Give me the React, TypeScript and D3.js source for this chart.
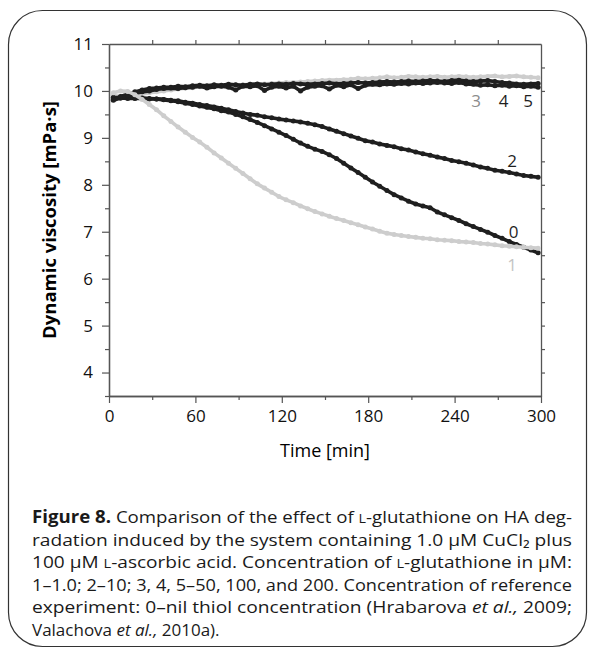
import * as d3 from "d3";
import React, { useEffect, useRef } from "react";

// sampling times [min]
const times = d3.range(3, 301, 5);

// dynamic viscosity [mPa·s]
const visc0 = [
  9.85, 9.85, 9.84, 9.84, 9.84, 9.83, 9.83, 9.81, 9.79, 9.77, 9.74, 9.71, 9.68, 9.65, 9.62,
  9.58, 9.55, 9.5, 9.45, 9.39, 9.33, 9.26, 9.19, 9.12, 9.05, 8.97, 8.89, 8.82, 8.76, 8.71,
  8.64, 8.56, 8.46, 8.36, 8.26, 8.16, 8.06, 7.97, 7.88, 7.79, 7.72, 7.65, 7.59, 7.55, 7.51,
  7.42, 7.36, 7.3, 7.24, 7.17, 7.11, 7.05, 6.99, 6.92, 6.86, 6.79, 6.73, 6.67, 6.61, 6.55,
];
const visc1 = [
  9.96, 10.0, 9.99, 9.92, 9.82, 9.71, 9.6, 9.47, 9.35, 9.23, 9.12, 9.01, 8.91, 8.8, 8.68,
  8.57, 8.46, 8.35, 8.24, 8.13, 8.02, 7.93, 7.84, 7.75, 7.68, 7.62, 7.55, 7.49, 7.43, 7.38,
  7.33, 7.28, 7.24, 7.19, 7.15, 7.1, 7.06, 7.01, 6.97, 6.94, 6.92, 6.9, 6.88, 6.86, 6.85,
  6.83, 6.82, 6.81, 6.79, 6.78, 6.77, 6.75, 6.74, 6.72, 6.7, 6.69, 6.68, 6.67, 6.66, 6.65,
];
const visc2 = [
  9.86, 9.86, 9.86, 9.85, 9.85, 9.84, 9.83, 9.82, 9.8, 9.79, 9.76, 9.74, 9.71, 9.69, 9.66,
  9.63, 9.6, 9.56, 9.53, 9.5, 9.48, 9.45, 9.43, 9.4, 9.38, 9.36, 9.34, 9.31, 9.28, 9.24,
  9.19, 9.14, 9.09, 9.04, 8.99, 8.94, 8.91, 8.87, 8.84, 8.81, 8.77, 8.74, 8.7, 8.66, 8.63,
  8.59, 8.56, 8.52, 8.49, 8.46, 8.42, 8.38, 8.35, 8.31, 8.29, 8.26, 8.23, 8.2, 8.18, 8.16,
];
const visc3 = [
  9.9, 9.88, 9.88, 9.9, 9.93, 9.96, 9.98, 10.0, 10.02, 10.04, 10.06, 10.07, 10.09, 10.1, 10.1,
  10.11, 10.12, 10.13, 10.13, 10.14, 10.14, 10.15, 10.16, 10.17, 10.18, 10.18, 10.19, 10.2, 10.21, 10.22,
  10.23, 10.23, 10.24, 10.25, 10.27, 10.26, 10.27, 10.28, 10.3, 10.28, 10.29, 10.31, 10.3, 10.29, 10.3,
  10.31, 10.29, 10.3, 10.31, 10.3, 10.29, 10.3, 10.31, 10.32, 10.3, 10.31, 10.32, 10.3, 10.29, 10.28,
];
const visc4 = [
  9.82, 9.88, 9.93, 9.98, 10.02, 10.05, 10.06, 10.08, 10.08, 10.1, 10.09, 10.11, 10.12, 10.11, 10.13,
  10.12, 10.14, 10.13, 10.12, 10.14, 10.15, 10.13, 10.14, 10.15, 10.14, 10.16, 10.15, 10.14, 10.15, 10.16,
  10.17, 10.15, 10.16, 10.17, 10.18, 10.17, 10.18, 10.19, 10.2, 10.19, 10.2, 10.21, 10.2, 10.21, 10.22,
  10.21, 10.2, 10.22, 10.23, 10.21, 10.2, 10.21, 10.22, 10.2, 10.18, 10.17, 10.15, 10.14, 10.15, 10.16,
];
const visc5 = [
  9.8, 9.85, 9.9, 9.95, 9.98, 10.0, 10.03, 10.05, 10.06, 10.05, 10.07, 10.08, 10.1, 10.06, 10.09,
  10.1, 10.08, 10.02, 10.1, 10.09, 10.11, 10.01, 10.08, 10.1, 10.06, 10.1, 10.0, 10.08, 10.1, 10.11,
  10.04, 10.12, 10.09, 10.13, 10.05, 10.12, 10.14, 10.13, 10.15, 10.14, 10.16, 10.15, 10.17, 10.16, 10.17,
  10.18, 10.17, 10.16, 10.18, 10.15, 10.14, 10.12, 10.13, 10.11, 10.12, 10.1, 10.11, 10.09, 10.1, 10.08,
];

const xTicks = [0, 60, 120, 180, 240, 300];
const yTicks = [4, 5, 6, 7, 8, 9, 10, 11];

// curve labels: text, time, viscosity
const labelNames = ["3", "4", "5", "2", "0", "1"];
const labelTimes = [255, 274, 291, 280, 281, 280];
const labelValues = [9.78, 9.78, 9.78, 8.5, 7.0, 6.3];

const BLACK = "#1f1f1f";
const GRAY = "#cdcdcd";
const FONT = "'Open Sans', sans-serif";

const App: React.FC = () => {
  const ref = useRef<SVGGElement | null>(null);

  useEffect(() => {
    if (!ref.current) return;
    const svg = d3.select(ref.current);
    svg.selectAll("*").remove();

    const width = 595;
    const height = 657;
    const margin = { top: 44, right: 54, bottom: 261, left: 109 };

    // frame around figure + caption
    svg
      .append("rect")
      .attr("x", 8.5)
      .attr("y", 10.5)
      .attr("width", width - 17)
      .attr("height", height - 21)
      .attr("rx", 34)
      .attr("fill", "none")
      .attr("stroke", "#333")
      .attr("stroke-width", 1.2);

    const x = d3
      .scaleLinear()
      .domain([0, 300])
      .range([margin.left, width - margin.right]);
    const y = d3
      .scaleLinear()
      .domain([3.5, 11])
      .range([height - margin.bottom, margin.top]);

    const axisColor = "#555";
    const styleAxis = (g: d3.Selection<SVGGElement, unknown, null, undefined>) => {
      g.selectAll("path").attr("stroke", axisColor).attr("stroke-width", 1.3);
      g.selectAll("line").attr("stroke", axisColor).attr("stroke-width", 1.2);
      g.selectAll("text")
        .attr("fill", "#111")
        .style("font-family", FONT)
        .style("font-size", "17px");
    };

    const minorX = d3.range(30, 300, 60);
    const minorY = d3.range(3.5, 11, 1);

    // bottom
    svg
      .append("g")
      .attr("transform", `translate(0,${y(3.5)})`)
      .call(d3.axisBottom(x).tickValues(minorX).tickSize(4).tickSizeOuter(0).tickFormat(() => ""))
      .call(styleAxis);
    svg
      .append("g")
      .attr("transform", `translate(0,${y(3.5)})`)
      .call(d3.axisBottom(x).tickValues(xTicks).tickSize(7).tickSizeOuter(0).tickPadding(7))
      .call(styleAxis);
    // top
    svg
      .append("g")
      .attr("transform", `translate(0,${y(11)})`)
      .call(d3.axisTop(x).tickValues(d3.range(30, 300, 30)).tickSize(4).tickSizeOuter(0).tickFormat(() => ""))
      .call(styleAxis);
    // left
    svg
      .append("g")
      .attr("transform", `translate(${x(0)},0)`)
      .call(d3.axisLeft(y).tickValues(minorY).tickSize(4).tickSizeOuter(0).tickFormat(() => ""))
      .call(styleAxis);
    svg
      .append("g")
      .attr("transform", `translate(${x(0)},0)`)
      .call(d3.axisLeft(y).tickValues(yTicks).tickSize(7).tickSizeOuter(0).tickPadding(9))
      .call(styleAxis);
    // right
    svg
      .append("g")
      .attr("transform", `translate(${x(300)},0)`)
      .call(
        d3
          .axisRight(y)
          .tickValues(d3.range(4, 11, 0.5))
          .tickSize(4)
          .tickSizeOuter(0)
          .tickFormat(() => "")
      )
      .call(styleAxis);

    // curves (gray 3 under the black ones, gray 1 on top)
    const seriesList = [
      { v: visc3, c: GRAY },
      { v: visc0, c: BLACK },
      { v: visc2, c: BLACK },
      { v: visc4, c: BLACK },
      { v: visc5, c: BLACK },
      { v: visc1, c: GRAY },
    ];
    const line = d3
      .line<number>()
      .x((_, i) => x(times[i]))
      .y((d) => y(d));

    seriesList.forEach((s) => {
      const g = svg.append("g");
      g.append("path")
        .datum(s.v)
        .attr("fill", "none")
        .attr("stroke", s.c)
        .attr("stroke-width", 3.6)
        .attr("stroke-linejoin", "round")
        .attr("d", line);
      g.selectAll("circle")
        .data(s.v)
        .join("circle")
        .attr("cx", (_, i) => x(times[i]))
        .attr("cy", (d) => y(d))
        .attr("r", 2.5)
        .attr("fill", s.c);
    });

    // curve labels
    const labelColors = ["#8c8c8c", BLACK, BLACK, BLACK, BLACK, "#c4c4c4"];
    labelNames.forEach((t, i) => {
      svg
        .append("text")
        .attr("x", x(labelTimes[i]))
        .attr("y", y(labelValues[i]))
        .attr("dy", "0.35em")
        .attr("text-anchor", "middle")
        .attr("fill", labelColors[i])
        .style("font-family", FONT)
        .style("font-size", "17px")
        .text(t);
    });

    // axis titles
    svg
      .append("text")
      .attr("x", (x(0) + x(300)) / 2)
      .attr("y", 457)
      .attr("text-anchor", "middle")
      .style("font-family", FONT)
      .style("font-size", "18px")
      .text("Time [min]");
    svg
      .append("text")
      .attr("transform", `translate(50,${(y(3.5) + y(11)) / 2}) rotate(-90)`)
      .attr("text-anchor", "middle")
      .attr("dy", "0.35em")
      .style("font-family", FONT)
      .style("font-size", "18.5px")
      .style("font-weight", "bold")
      .text("Dynamic viscosity [mPa·s]");
  }, []);

  const cap = { fontFamily: FONT, fontSize: 17 } as const;
  const sc = { fontSize: 13 } as const;
  const lx = 32;
  const lw = 540;
  const ly = [523, 545.5, 568, 590.5, 613, 635.5];

  return (
    <svg
      width={595}
      height={657}
      style={{ position: "absolute", left: 0, top: 0, background: "#fff" }}
    >
      <g ref={ref} />
      <g style={cap} fill="#1a1a1a">
        <text x={lx} y={ly[0]} textLength={lw} lengthAdjust="spacingAndGlyphs">
          <tspan fontWeight="bold">Figure 8.</tspan> Comparison of the effect of{" "}
          <tspan style={sc}>L</tspan>-glutathione on HA deg-
        </text>
        <text x={lx} y={ly[1]} textLength={lw} lengthAdjust="spacingAndGlyphs">
          radation induced by the system containing 1.0 µM CuCl₂ plus
        </text>
        <text x={lx} y={ly[2]} textLength={lw} lengthAdjust="spacingAndGlyphs">
          100 µM <tspan style={sc}>L</tspan>-ascorbic acid. Concentration of{" "}
          <tspan style={sc}>L</tspan>-glutathione in µM:
        </text>
        <text x={lx} y={ly[3]} textLength={lw} lengthAdjust="spacingAndGlyphs">
          1–1.0; 2–10; 3, 4, 5–50, 100, and 200. Concentration of reference
        </text>
        <text x={lx} y={ly[4]} textLength={lw} lengthAdjust="spacingAndGlyphs">
          experiment: 0–nil thiol concentration (Hrabarova{" "}
          <tspan fontStyle="italic">et al.,</tspan> 2009;
        </text>
        <text x={lx} y={ly[5]}>
          Valachova <tspan fontStyle="italic">et al.,</tspan> 2010a).
        </text>
      </g>
    </svg>
  );
};

export default App;
